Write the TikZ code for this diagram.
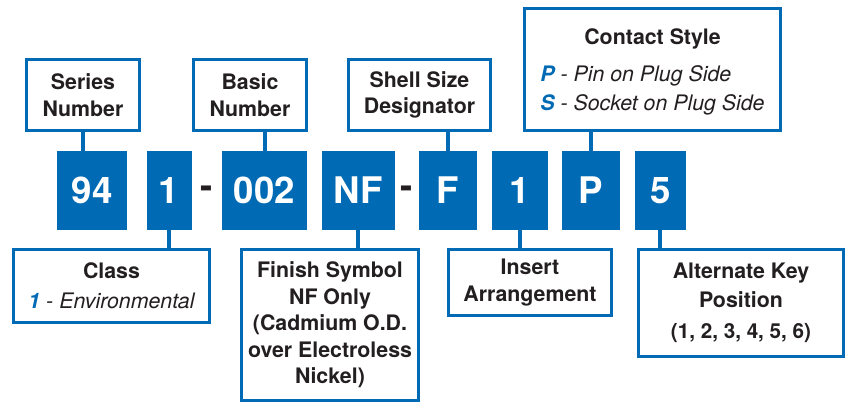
\documentclass[tikz,border=0pt]{standalone}
\usepackage{fontspec}
\setmainfont{TeX Gyre Heros}
\usepackage{tikz}
\usetikzlibrary{positioning,calc}
\definecolor{partblue}{RGB}{0,106,180}
\definecolor{partdark}{RGB}{35,31,32}
\newcommand{\keyitem}[2]{{\mdseries\itshape\textcolor{partblue}{\bfseries #1} - #2}}

\begin{document}
\begin{tikzpicture}[x=0.75pt,y=0.75pt,node distance=10.5pt,
		code/.style={fill=partblue,text=white,inner sep=0pt,minimum height=59.25pt,font=\fontsize{27.5}{30}\selectfont\bfseries},
		sep/.style={inner sep=0pt,text=partdark,yshift=-1.5pt,font=\fontsize{27.5}{30}\selectfont\bfseries},
		desc/.style={draw=partblue,line width=2pt,fill=white,text=partdark,align=center,inner sep=0pt,font=\fontsize{16}{19.9}\selectfont\bfseries},
		link/.style={draw=partblue,line width=3pt}]
			\useasboundingbox (0,0) rectangle (846,403);
			\node[code,minimum width=52.5pt] (c_94) at (92,212.5) {94};
			\node[code,minimum width=33.75pt] [right=14.25pt of c_94] (c_1) {1};
			\node[code,minimum width=63.75pt] [right=22.5pt of c_1] (c_002) {002};
			\node[code,minimum width=54.75pt] [right=of c_002] (c_NF) {NF};
			\node[code,minimum width=43.5pt] [right=18pt of c_NF] (c_F) {F};
			\node[code,minimum width=42pt] [right=of c_F] (c_1b) {1};
			\node[code,minimum width=43.5pt] [right=of c_1b] (c_P) {P};
			\node[code,minimum width=38.25pt] [right=of c_P] (c_5) {5};
			\node[sep] at ($(c_1.east)!0.5!(c_002.west)$) (d_1) {-};
			\node[sep] at ($(c_NF.east)!0.5!(c_F.west)$) (d_2) {-};
			\node[desc,minimum width=85.1pt,minimum height=53.6pt] (l_series) at (83,308) {Series\\Number};
			\node[desc,minimum width=85.1pt,minimum height=53.6pt] (l_basic) at (250,308) {Basic\\Number};
			\node[desc,minimum width=106.9pt,minimum height=53.6pt] (l_shell) at (419.5,308) {Shell Size\\Designator};
			\node[desc,minimum width=192.4pt,minimum height=91.9pt] (l_contact) at (652.5,333.5) {\rule{0pt}{18.5pt}Contact Style\\[7.8pt]\begin{tabular}[t]{@{}l@{}}\keyitem{P}{Pin on Plug Side}\\[1.8pt]\keyitem{S}{Socket on Plug Side}\end{tabular}};
			\node[desc,minimum width=147.4pt,minimum height=55.1pt] (l_class) at (111.5,117) {Class\\[2.6pt]\keyitem{1}{Environmental}};
			\node[desc,minimum width=133.1pt,minimum height=113.6pt] (l_finish) at (330,78) {Finish Symbol\\NF Only\\(Cadmium O.D.\\over Electroless\\Nickel)};
			\node[desc,minimum width=122.6pt,minimum height=49.9pt] (l_insert) at (530,120.5) {Insert\\Arrangement};
			\node[desc,minimum width=154.1pt,minimum height=80.6pt] (l_alt) at (741,100) {Alternate Key\\[1.9pt]Position\\[3.4pt]{\fontsize{15.5}{16}\selectfont(1, 2, 3, 4, 5, 6)}};
			\path[link]
				(l_series.south) edge (l_series.south |- c_94.north)
				(c_002.north) edge (c_002.north |- l_basic.south)
				(c_F.north) edge (c_F.north |- l_shell.south)
				(c_P.north) edge (c_P.north |- l_contact.south)
				(c_1.south) edge (c_1.south |- l_class.north)
				(c_NF.south) edge (c_NF.south |- l_finish.north)
				(c_1b.south) edge (c_1b.south |- l_insert.north)
				(c_5.south) edge (c_5.south |- l_alt.north);
		\end{tikzpicture}
\end{document}
